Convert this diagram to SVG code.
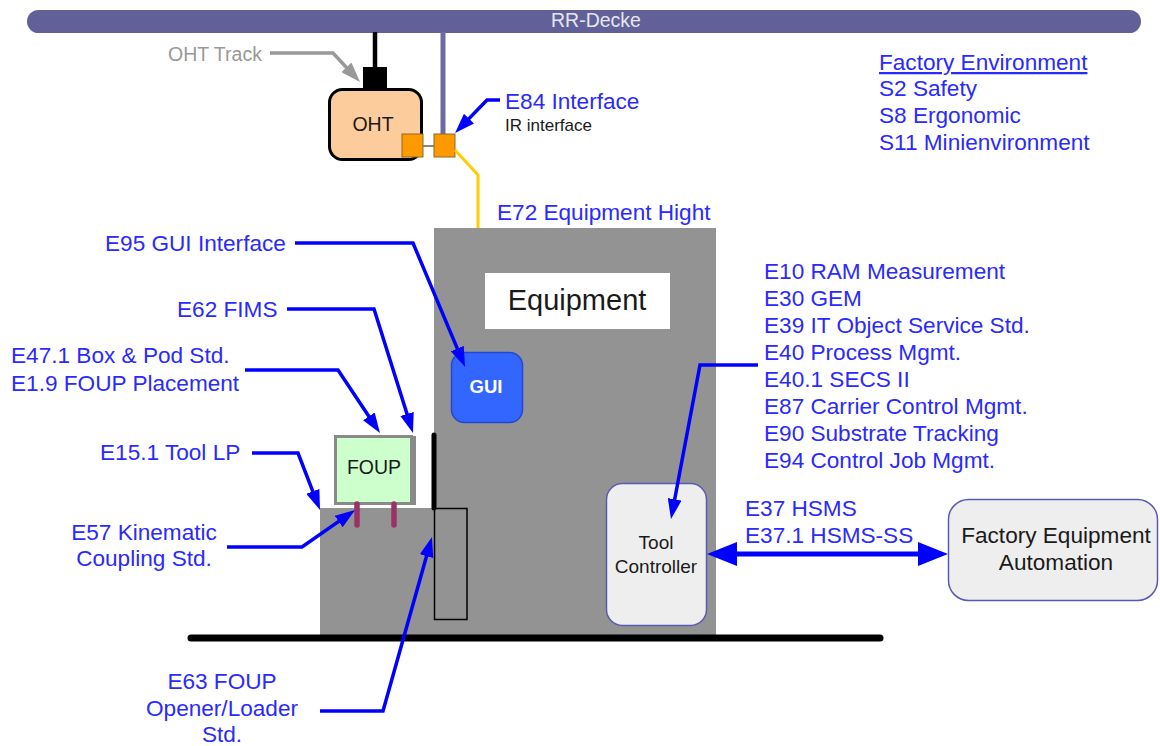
<svg xmlns="http://www.w3.org/2000/svg" width="1160" height="746" viewBox="0 0 1160 746">
<style>
text{font-family:"Liberation Sans",Arial,sans-serif}
.lbl{fill:#2a2aff;font-size:22.6px}
.dark{fill:#1a1a1a}
.arr{fill:none;stroke:#0000ff;stroke-width:3.5;stroke-linejoin:miter}
.box{fill:#eeeeee;stroke:#5a5ab4;stroke-width:1.5}
</style>
<defs>
<marker id="ah" markerUnits="userSpaceOnUse" viewBox="0 0 20 14" refX="8" refY="7" markerWidth="20" markerHeight="14" orient="auto">
<path d="M0,0 L20,7 L0,14 z" fill="#0000ff"/>
</marker>
<marker id="ahg" markerUnits="userSpaceOnUse" viewBox="0 0 20 14" refX="8" refY="7" markerWidth="20" markerHeight="14" orient="auto">
<path d="M0,0 L20,7 L0,14 z" fill="#999999"/>
</marker>
<marker id="ahb" markerUnits="userSpaceOnUse" viewBox="0 0 30 24" refX="14" refY="12" markerWidth="30" markerHeight="24" orient="auto-start-reverse">
<path d="M0,0 L30,12 L0,24 z" fill="#0000ff"/>
</marker>
</defs>
<rect width="1160" height="746" fill="#ffffff"/>

<g id="rr-decke">
<rect x="27" y="10" width="1114" height="23" rx="11.5" fill="#626098"/>
<text x="596" y="27" font-size="19.5" fill="#e6e6f0" text-anchor="middle">RR-Decke</text>
</g>

<g id="oht-track">
<line x1="375" y1="32" x2="375" y2="68" stroke="#000" stroke-width="4.5"/>
<rect x="363" y="67" width="24" height="23" fill="#000"/>
<text x="168" y="61" font-size="19.5" fill="#999999">OHT Track</text>
</g>

<g id="ceiling-drop">
<line x1="443" y1="32" x2="443" y2="134" stroke="#6c6a9e" stroke-width="5"/>
</g>

<g id="oht">
<rect x="329.5" y="89.5" width="92" height="70" rx="13" fill="#fccc9c" stroke="#000" stroke-width="3"/>
<text x="373" y="131" font-size="19.5" class="dark" text-anchor="middle">OHT</text>
<line x1="422" y1="146" x2="435" y2="146" stroke="#888" stroke-width="2"/>
<rect x="402" y="134" width="21" height="23" fill="#ff9900" stroke="#8a6a20" stroke-width="1"/>
</g>

<g id="e84-port">
<rect x="434" y="134" width="21" height="23" fill="#ff9900" stroke="#8a6a20" stroke-width="1"/>
<polyline points="455,150 478,175 478,229" fill="none" stroke="#ffcc00" stroke-width="3"/>
</g>

<g id="equipment">
<rect x="434" y="228" width="282" height="408" fill="#939393"/>
<rect x="485" y="273" width="185" height="56" fill="#ffffff"/>
<text x="577" y="310" font-size="29" class="dark" text-anchor="middle">Equipment</text>
</g>

<g id="loadport">
<rect x="320" y="508" width="114" height="128" fill="#939393"/>
<rect x="434.5" y="508.5" width="32.5" height="111" fill="none" stroke="#000" stroke-width="1.5"/>
<line x1="434" y1="435" x2="434" y2="508" stroke="#000" stroke-width="5" stroke-linecap="round"/>
</g>

<g id="foup">
<rect x="410" y="436" width="6" height="69" fill="#8a8a8a"/>
<rect x="335.5" y="436.5" width="76" height="67" fill="#ccffcc" stroke="#8a8a8a" stroke-width="3"/>
<text x="374" y="474" font-size="19.5" class="dark" text-anchor="middle">FOUP</text>
<line x1="357" y1="504" x2="357" y2="525" stroke="#993366" stroke-width="5.5" stroke-linecap="round"/>
<line x1="394" y1="504" x2="394" y2="525" stroke="#993366" stroke-width="5.5" stroke-linecap="round"/>
</g>

<g id="gui">
<rect x="451.5" y="352.5" width="71" height="70" rx="13" fill="#3366ff" stroke="#2347d0" stroke-width="1.5"/>
<text x="486" y="393" font-size="18.5" font-weight="bold" fill="#ffffff" text-anchor="middle">GUI</text>
</g>

<g id="tool-controller">
<rect x="606.5" y="483.5" width="100" height="142" rx="16" class="box"/>
<text x="656" y="549" font-size="19" class="dark" text-anchor="middle">Tool</text>
<text x="656" y="573" font-size="19" class="dark" text-anchor="middle">Controller</text>
</g>

<g id="factory-automation">
<rect x="948.5" y="499.5" width="209" height="101" rx="20" class="box"/>
<text x="1056" y="543" font-size="22.6" class="dark" text-anchor="middle">Factory Equipment</text>
<text x="1056" y="570" font-size="22.6" class="dark" text-anchor="middle">Automation</text>
</g>

<g id="floor">
<line x1="191" y1="638" x2="880" y2="638" stroke="#000" stroke-width="7" stroke-linecap="round"/>
</g>

<g id="labels">
<text x="505" y="109" class="lbl">E84 Interface</text>
<text x="505" y="131" font-size="17" class="dark">IR interface</text>
<text x="497" y="220" class="lbl">E72 Equipment Hight</text>
<text x="879" y="70" class="lbl" text-decoration="underline">Factory Environment</text>
<text x="879" y="96" class="lbl">S2 Safety</text>
<text x="879" y="123" class="lbl">S8 Ergonomic</text>
<text x="879" y="150" class="lbl">S11 Minienvironment</text>
<text x="105" y="251" class="lbl">E95 GUI Interface</text>
<text x="177" y="317" class="lbl">E62 FIMS</text>
<text x="11" y="363" class="lbl">E47.1 Box &amp; Pod Std.</text>
<text x="11" y="391" class="lbl">E1.9 FOUP Placement</text>
<text x="100" y="460" class="lbl">E15.1 Tool LP</text>
<text x="144" y="540" class="lbl" text-anchor="middle">E57 Kinematic</text>
<text x="144" y="566" class="lbl" text-anchor="middle">Coupling Std.</text>
<text x="222" y="689" class="lbl" text-anchor="middle">E63 FOUP</text>
<text x="222" y="716" class="lbl" text-anchor="middle">Opener/Loader</text>
<text x="222" y="742" class="lbl" text-anchor="middle">Std.</text>
<text x="764" y="279" class="lbl">E10 RAM Measurement</text>
<text x="764" y="306" class="lbl">E30 GEM</text>
<text x="764" y="333" class="lbl">E39 IT Object Service Std.</text>
<text x="764" y="360" class="lbl">E40 Process Mgmt.</text>
<text x="764" y="387" class="lbl">E40.1 SECS II</text>
<text x="764" y="414" class="lbl">E87 Carrier Control Mgmt.</text>
<text x="764" y="441" class="lbl">E90 Substrate Tracking</text>
<text x="764" y="468" class="lbl">E94 Control Job Mgmt.</text>
<text x="745" y="516" class="lbl">E37 HSMS</text>
<text x="745" y="543" class="lbl">E37.1 HSMS-SS</text>
</g>

<g id="connectors">
<polyline points="270,53 333,53 351.8,73.2" fill="none" stroke="#999999" stroke-width="3.5" marker-end="url(#ahg)"/>
<polyline class="arr" points="500,100 487,100 463.4,124.4" marker-end="url(#ah)"/>
<polyline class="arr" points="295,243 413,243 460.4,355.9" marker-end="url(#ah)"/>
<polyline class="arr" points="287,309 374,309 409.4,421.6" marker-end="url(#ah)"/>
<polyline class="arr" points="245,370 338,370 373.3,423" marker-end="url(#ah)"/>
<polyline class="arr" points="252,453 298,453 315.7,498.8" marker-end="url(#ah)"/>
<polyline class="arr" points="227,547 302,547 345.2,516.9" marker-end="url(#ah)"/>
<polyline class="arr" points="320,711 383,711 428.7,548.5" marker-end="url(#ah)"/>
<polyline class="arr" points="758,365 700,365 673.2,507.2" marker-end="url(#ah)"/>
<line x1="723" y1="554" x2="932" y2="554" stroke="#0000ff" stroke-width="5" marker-start="url(#ahb)" marker-end="url(#ahb)"/>
</g>
</svg>
